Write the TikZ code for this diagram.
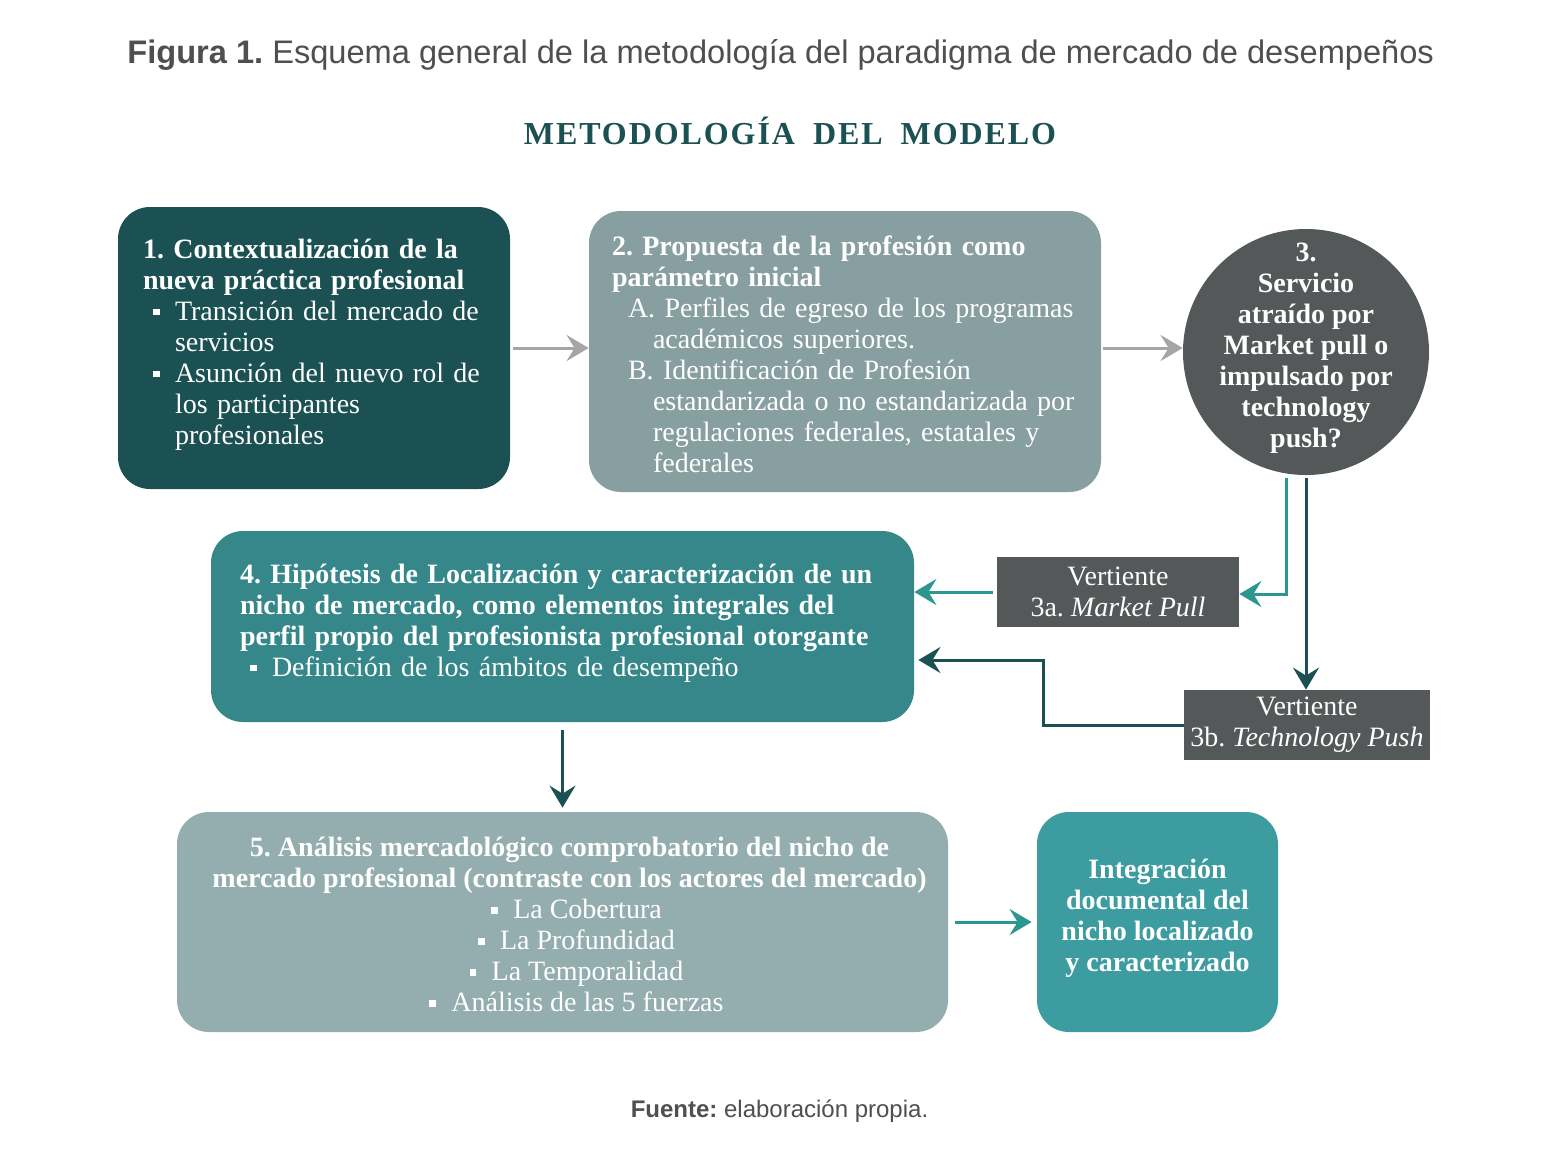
\documentclass[tikz,border=0pt]{standalone}
\usepackage{fontspec}
\setmainfont{Liberation Serif}
\newfontfamily\figsans{Liberation Sans}
\usepackage{tikz}
\usetikzlibrary{arrows.meta, positioning}
\frenchspacing

\definecolor{darkteal}{HTML}{1C5153}
\definecolor{greyteal}{HTML}{879FA0}
\definecolor{slate}{HTML}{545859}
\definecolor{midteal}{HTML}{35878A}
\definecolor{paleteal}{HTML}{94AEB0}
\definecolor{brightteal}{HTML}{3D9CA0}
\definecolor{arrowgrey}{HTML}{A5A5A5}
\definecolor{arrowteal}{HTML}{2C9790}
\definecolor{captiongrey}{HTML}{4F4F4F}

\newcommand\sqbul{\rule[0.17em]{0.24em}{0.24em}}
\newcommand\sqitem{\hspace*{5pt}\makebox[11pt][l]{\sqbul}}
\newcommand\sqcont{\hspace*{16pt}}
\newcommand\nudge[2]{\raisebox{#1}[\height][\depth]{#2}}

\begin{document}
\begin{tikzpicture}[
  x=0.5pt, y=-0.5pt,
  txt/.style = {font=\fontsize{14}{15.5}\selectfont, text=white},
  box/.style = {txt, rectangle, rounded corners=16pt, inner ysep=0pt, align=left},
  cbox/.style = {txt, rectangle, rounded corners=16pt, inner sep=0pt, align=center, font=\fontsize{14}{15.5}\selectfont\bfseries},
  tag/.style = {txt, rectangle, fill=slate, inner sep=0pt, align=center, minimum height=35pt},
  arr/.style = {-{Stealth[length=11pt, width=13pt, inset=4pt]}, line width=1.5pt}
  ]

  \fill[white] (0,0) rectangle (1559,1169);
  \useasboundingbox (0,0) rectangle (1559,1169);

  % Titulos
  \node[font=\figsans\fontsize{16.3}{20}\selectfont, text=captiongrey, anchor=base west, inner sep=0pt] (caption) at (127,63)
    {\textbf{Figura 1.} Esquema general de la metodología del paradigma de mercado de desempeños};
  \node[font=\fontsize{16}{19}\selectfont\bfseries\addfontfeatures{LetterSpace=6}, text=darkteal, anchor=base] (title) at (790,144)
    {METODOLOGÍA\hspace{9pt}DEL\hspace{9pt}MODELO};

  % Nodos
  \node[box, fill=darkteal, minimum width=196pt, minimum height=141pt, text width=171pt, inner xsep=12.5pt] (ctx) at (314,348)
    {\nudge{1.5pt}{\begin{tabular}{@{}l@{}}
      \textbf{1. Contextualización de la}\\
      \textbf{nueva práctica profesional}\\
      \sqitem Transición del mercado de\\
      \sqcont servicios\\
      \sqitem Asunción del nuevo rol de\\
      \sqcont los participantes\\
      \sqcont profesionales
    \end{tabular}}};
  \node[box, fill=greyteal, minimum width=256pt, minimum height=140.5pt, text width=233pt, inner xsep=11.5pt] (prop) at (845,351.5)
    {\nudge{-3pt}{\begin{tabular}{@{}l@{}}
      \textbf{2. Propuesta de la profesión como}\\
      \textbf{parámetro inicial}\\
      \hspace*{8pt}A. Perfiles de egreso de los programas\\
      \hspace*{20.5pt}académicos superiores.\\
      \hspace*{8pt}B. Identificación de Profesión\\
      \hspace*{20.5pt}estandarizada o no estandarizada por\\
      \hspace*{20.5pt}regulaciones federales, estatales y\\
      \hspace*{20.5pt}federales
    \end{tabular}}};
  \node[txt, circle, fill=slate, minimum size=123pt, inner sep=0pt, font=\fontsize{14}{15.5}\selectfont\bfseries] (serv) at (1306,352)
    {\makebox[0pt]{\raisebox{-1.5pt}[0pt][0pt]{\begin{tabular}{@{}c@{}}
      3.\\ Servicio\\ atraído por\\ Market pull o\\ impulsado por\\ technology\\ push?
    \end{tabular}}}};
  \node[tag, minimum width=121pt] (pull) at (1118,592) {Vertiente\\ 3a. \textit{Market Pull}};
  \node[tag, minimum width=123pt] (push) at (1307,725) {Vertiente\\ 3b. \textit{Technology Push}};
  \node[box, fill=midteal, minimum width=351.5pt, minimum height=95.5pt, text width=322.5pt, inner xsep=14.5pt] (hip) at (562.5,626.5)
    {\nudge{1.5pt}{\begin{tabular}{@{}l@{}}
      \textbf{4. Hipótesis de Localización y caracterización de un}\\
      \textbf{nicho de mercado, como elementos integrales del}\\
      \textbf{perfil propio del profesionista profesional otorgante}\\
      \sqitem Definición de los ámbitos de desempeño
    \end{tabular}}};
  \node[cbox, fill=paleteal, minimum width=385.5pt, minimum height=110pt] (ana) at (562.5,922)
    {\nudge{-3pt}{\begin{tabular}{@{}c@{}}
      \hspace*{7pt}5. Análisis mercadológico comprobatorio del nicho de\\
      \hspace*{7pt}mercado profesional (contraste con los actores del mercado)\\
      \mdseries\hspace*{14pt}\makebox[11pt][l]{\sqbul}La Cobertura\\
      \mdseries\hspace*{14pt}\makebox[11pt][l]{\sqbul}La Profundidad\\
      \mdseries\hspace*{14pt}\makebox[11pt][l]{\sqbul}La Temporalidad\\
      \mdseries\hspace*{14pt}\makebox[11pt][l]{\sqbul}Análisis de las 5 fuerzas
    \end{tabular}}};
  \node[cbox, fill=brightteal, minimum width=120.5pt, minimum height=110pt] (integ) at (1157.5,922)
    {\nudge{1.5pt}{\begin{tabular}{@{}c@{}}
      Integración\\ documental del\\ nicho localizado\\ y caracterizado
    \end{tabular}}};
  \node[font=\figsans\fontsize{12}{14}\selectfont, text=captiongrey, anchor=base] (source) at (779.5,1117)
    {\textbf{Fuente:} elaboración propia.};

  % Flechas
  \draw[arr, arrowgrey] ([xshift=1.5pt]ctx.east) -- (ctx.east -| prop.west);
  \draw[arr, arrowgrey] ([xshift=1pt,yshift=1.75pt]prop.east) -- ([yshift=1.75pt]prop.east -| serv.west);
  \draw[arr, arrowteal] ([xshift=-10pt,yshift=-1.5pt]serv.south) |- ([yshift=-1pt]pull.east);
  \draw[arr, darkteal] ([yshift=-1.5pt]serv.south) -- (serv.south |- push.north);
  \draw[arr, arrowteal] ([xshift=-2pt]pull.west) -- (pull.west -| hip.east);
  \draw[arr, darkteal] (push.west) -- ++(-70pt,0) |- ([xshift=2pt,yshift=-16.75pt]hip.east);
  \draw[arr, darkteal] ([yshift=-4pt]hip.south) -- ([yshift=2pt]ana.north);
  \draw[arr, arrowteal] ([xshift=3.5pt]ana.east) -- ([xshift=-2.5pt]integ.west);

\end{tikzpicture}
\end{document}
